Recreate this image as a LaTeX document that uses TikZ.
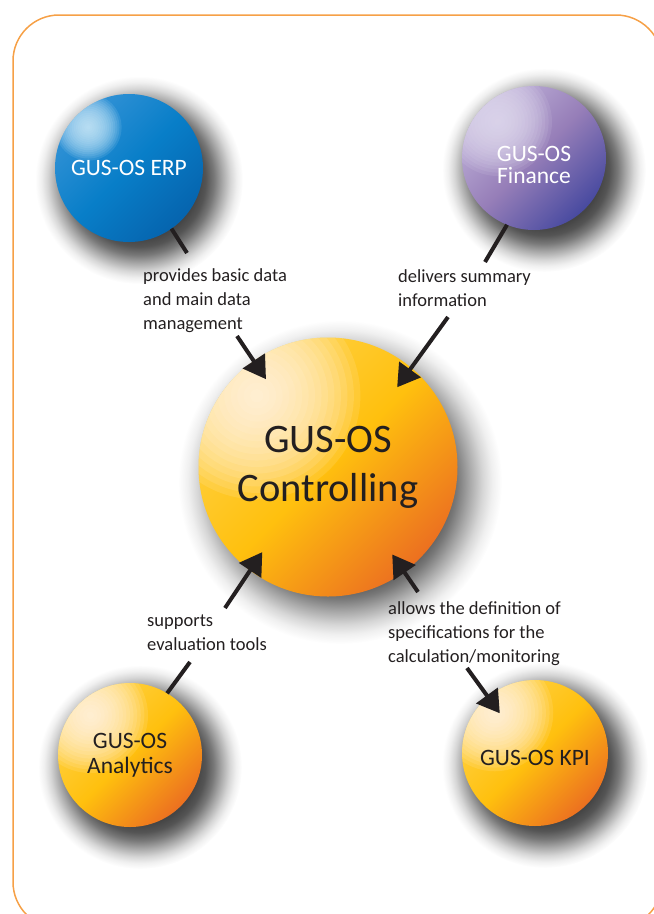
\documentclass[tikz,border=0pt]{standalone}
\usepackage{fontspec}
\setmainfont{Carlito}
\usetikzlibrary{arrows.meta,calc,backgrounds}

\definecolor{ink}{RGB}{35,31,32}
\definecolor{frameorange}{RGB}{246,160,70}
\definecolor{orangetop}{RGB}{255,210,70}
\definecolor{orangemid}{RGB}{255,192,14}
\definecolor{orangelow}{RGB}{236,112,32}
\definecolor{orangeglow}{RGB}{255,246,234}
\definecolor{bluetop}{RGB}{50,146,214}
\definecolor{bluemid}{RGB}{8,126,200}
\definecolor{bluelow}{RGB}{6,100,174}
\definecolor{blueglow}{RGB}{205,235,250}
\definecolor{purpletop}{RGB}{190,176,216}
\definecolor{purplemid}{RGB}{150,126,184}
\definecolor{purplelow}{RGB}{72,74,160}
\definecolor{purpleglow}{RGB}{226,220,240}

\pgfdeclareradialshading{shadowblob}{\pgfpoint{0bp}{0bp}}{color(0bp)=(black!74); color(14bp)=(black!73); color(16bp)=(black!67); color(18bp)=(black!53); color(20bp)=(black!34); color(22bp)=(black!16); color(23.5bp)=(black!6); color(25bp)=(white); color(50bp)=(white)}

\tikzset{
  sphere/.style n args={6}{circle, inner sep=0pt, outer sep=0pt, align=center,
    top color=#1, bottom color=#3, middle color=#2, shading angle=45,
    path picture={\foreach \k in {1,...,16}
      {\fill[#4, opacity=0.12] let \p1=(path picture bounding box.north east), \p2=(path picture bounding box.center) in
        ($(path picture bounding box.center)!#5!(path picture bounding box.north west)$) circle[radius={#6*(\x1-\x2)*\k/16}];}}},
  orangeball/.style={sphere={orangetop}{orangemid}{orangelow}{orangeglow}{0.55}{0.8}, text=ink},
  blueball/.style={sphere={bluetop}{bluemid}{bluelow}{blueglow}{0.55}{0.45}, text=white},
  purpleball/.style={sphere={purpletop}{purplemid}{purplelow}{purpleglow}{0.5}{0.75}, text=white},
  note/.style={anchor=north west, inner sep=0pt, align=left, text=ink, font=\fontsize{18.5}{24}\selectfont},
  link/.style={draw=ink, line width=4pt},
  linkhead/.style={link, -{Triangle[length=22pt,width=26pt]}},
}

\begin{document}
\begin{tikzpicture}[x=1pt,y=-1pt]
\useasboundingbox (0,0) rectangle (654,914);
\clip (0,0) rectangle (654,914);
\draw[frameorange, line width=1.5pt, rounded corners=46pt] (13,15) rectangle (662,928);

% spheres
\node[blueball, minimum size=148pt, font=\fontsize{23.5}{24}\selectfont] (erp) at (129,168) {GUS-OS ERP};
\node[purpleball, minimum size=144pt, font=\fontsize{23.5}{22}\selectfont] (fin) at (534,158) {\rule{0pt}{30pt}GUS-OS\\Finance};
\node[orangeball, minimum size=259pt, font=\fontsize{40.5}{49}\selectfont] (ctrl) at (328,467) {GUS-OS\\Controlling};
\node[orangeball, minimum size=144pt, font=\fontsize{23.5}{25}\selectfont] (ana) at (130,755) {GUS-OS\\Analytics};
\node[orangeball, minimum size=146pt, font=\fontsize{23.5}{24}\selectfont] (kpi) at (535,753) {\rule{0pt}{25pt}GUS-OS KPI};

% shadows
\begin{scope}[on background layer]
\shade[shading=shadowblob] ($(erp.center)+(10,12)$) circle (104);
\shade[shading=shadowblob] ($(fin.center)+(10,12)$) circle (102);
\shade[shading=shadowblob] ($(ctrl.center)+(12,15)$) circle (162);
\shade[shading=shadowblob] ($(ana.center)+(10,12)$) circle (102);
\shade[shading=shadowblob] ($(kpi.center)+(10,12)$) circle (103);
\end{scope}

% labels
\node[note] (n1) at (143,268) {provides basic data\\and main data\\management};
\node[note] (n2) at (398,269) {delivers summary\\information};
\node[note] (n3) at (147,615) {supports\\evaluation tools};
\node[note] (n4) at (388,601) {allows the definition of\\specifications for the\\calculation/monitoring};

\coordinate (c1) at (187,253);
\coordinate (c2) at (237,336);
\coordinate (c3) at (485,262);
\coordinate (c4) at (448,317);
\coordinate (c5) at (190,662);
\coordinate (c6) at (225,608);
\coordinate (c7) at (418,592);
\coordinate (c8) at (467,668);

\path[link] (erp.-55.6) -- (c1);
\path[linkhead, shorten >=-22pt] (c2) -- (ctrl.125);
\path[link] (fin.-112.5) -- (c3);
\path[linkhead, shorten >=-24pt] (c4) -- (ctrl.50);
\path[link] (ana.59) -- (c5);
\path[linkhead, shorten >=-22pt] (c6) -- (ctrl.233);
\path[linkhead, shorten >=-21pt] (c7) -- (ctrl.-54);
\path[linkhead, shorten >=-20pt] (c8) -- (kpi.130);
\end{tikzpicture}
\end{document}
